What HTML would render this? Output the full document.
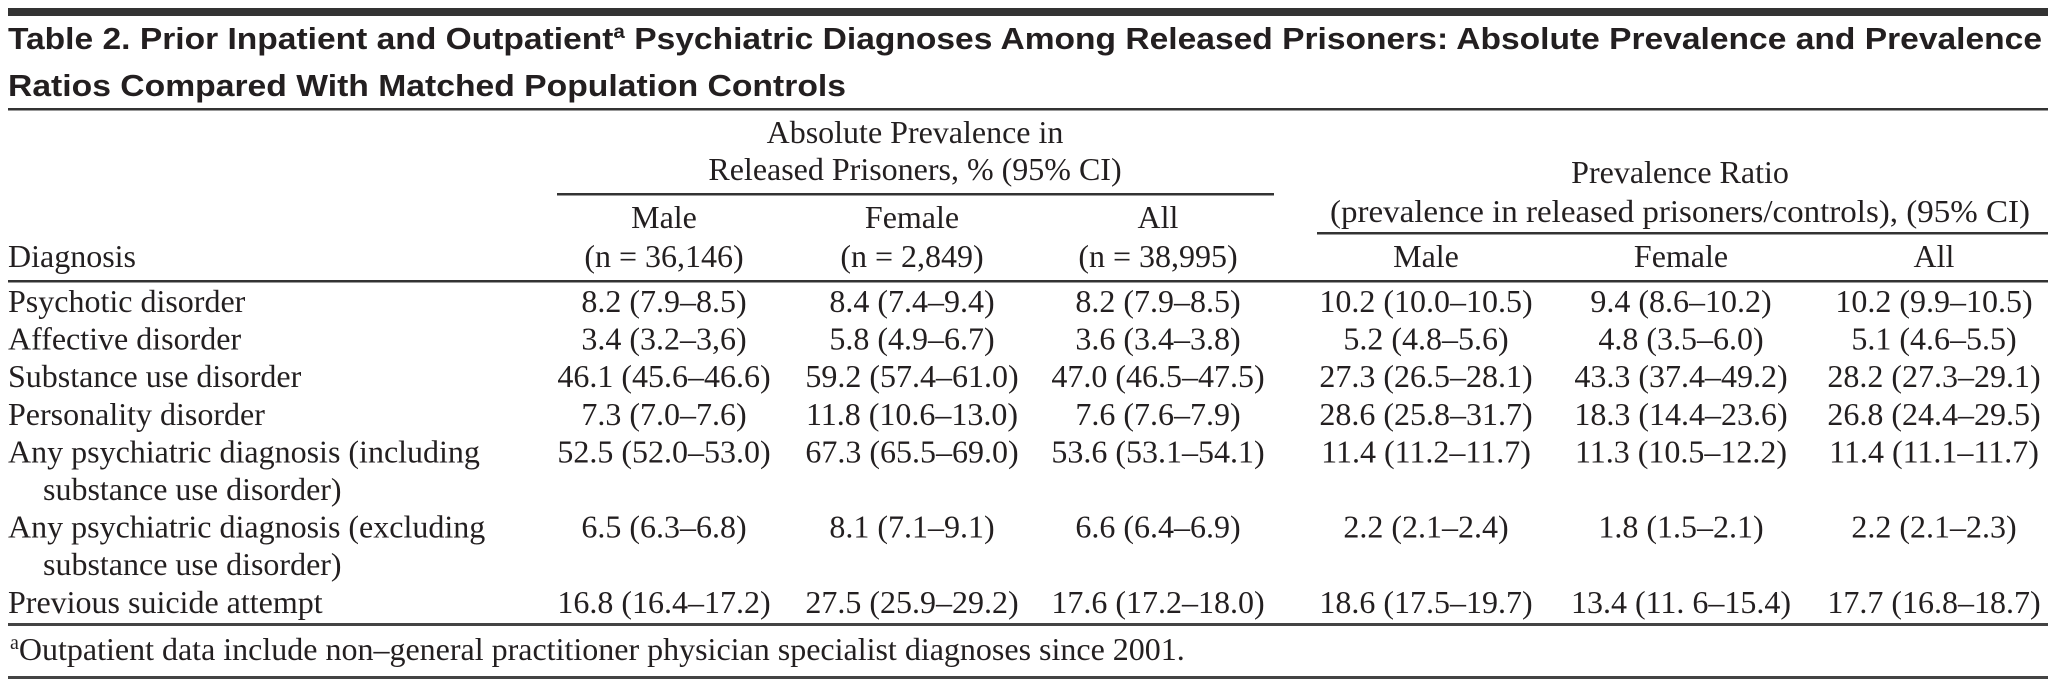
<!DOCTYPE html>
<html>
<head>
<meta charset="utf-8">
<style>
  html,body{margin:0;padding:0;background:#fff;}
  svg{display:block;}
  .serif{font-family:"Liberation Serif",serif;fill:#231f20;}
  .sans{font-family:"Liberation Sans",sans-serif;font-weight:bold;fill:#231f20;}
</style>
</head>
<body>
<svg id="tbl" width="2056" height="686" viewBox="0 0 2056 686" xmlns="http://www.w3.org/2000/svg">
  <rect x="8" y="8" width="2040" height="8" fill="#333"/>
  <text class="sans" x="8" y="49" font-size="31" textLength="2034" lengthAdjust="spacingAndGlyphs">Table 2. Prior Inpatient and Outpatient<tspan font-size="19" dy="-11">a</tspan><tspan dy="11"> Psychiatric Diagnoses Among Released Prisoners: Absolute Prevalence and Prevalence</tspan></text>
  <text class="sans" x="8" y="96" font-size="31" textLength="838" lengthAdjust="spacingAndGlyphs">Ratios Compared With Matched Population Controls</text>
  <rect x="8" y="108" width="2040" height="2.5" fill="#333"/>

  <text class="serif" x="915" y="143" font-size="32" text-anchor="middle">Absolute Prevalence in</text>
  <text class="serif" x="915" y="180" font-size="32" text-anchor="middle">Released Prisoners, % (95% CI)</text>
  <rect x="557" y="193" width="717" height="2.5" fill="#333"/>

  <text class="serif" x="1680" y="183" font-size="32" text-anchor="middle">Prevalence Ratio</text>
  <text class="serif" x="1680" y="222" font-size="32" text-anchor="middle" textLength="700" lengthAdjust="spacingAndGlyphs">(prevalence in released prisoners/controls), (95% CI)</text>
  <rect x="1317" y="232" width="731" height="2.5" fill="#333"/>

  <text class="serif" x="8" y="267" font-size="32">Diagnosis</text>
  <g id="headers"></g>
  <rect x="8" y="280" width="2040" height="2.5" fill="#333"/>
  <g id="rows"></g>
  <rect x="8" y="623" width="2040" height="3" fill="#444"/>
  <text class="serif" x="10" y="660" font-size="32"><tspan font-size="20" dy="-11">a</tspan><tspan dy="11">Outpatient data include non–general practitioner physician specialist diagnoses since 2001.</tspan></text>
  <rect x="8" y="676" width="2040" height="3" fill="#444"/>
</svg>
<script>
const colCenters = [664, 912, 1158, 1426, 1681, 1934];
const groupLabels = ["Male", "Female", "All", "Male", "Female", "All"];
const groupCounts = ["(n = 36,146)", "(n = 2,849)", "(n = 38,995)", "", "", ""];
const diagnoses = [
  ["Psychotic disorder"],
  ["Affective disorder"],
  ["Substance use disorder"],
  ["Personality disorder"],
  ["Any psychiatric diagnosis (including", "substance use disorder)"],
  ["Any psychiatric diagnosis (excluding", "substance use disorder)"],
  ["Previous suicide attempt"]
];
const absMale = ["8.2 (7.9–8.5)", "3.4 (3.2–3,6)", "46.1 (45.6–46.6)", "7.3 (7.0–7.6)", "52.5 (52.0–53.0)", "6.5 (6.3–6.8)", "16.8 (16.4–17.2)"];
const absFemale = ["8.4 (7.4–9.4)", "5.8 (4.9–6.7)", "59.2 (57.4–61.0)", "11.8 (10.6–13.0)", "67.3 (65.5–69.0)", "8.1 (7.1–9.1)", "27.5 (25.9–29.2)"];
const absAll = ["8.2 (7.9–8.5)", "3.6 (3.4–3.8)", "47.0 (46.5–47.5)", "7.6 (7.6–7.9)", "53.6 (53.1–54.1)", "6.6 (6.4–6.9)", "17.6 (17.2–18.0)"];
const ratioMale = ["10.2 (10.0–10.5)", "5.2 (4.8–5.6)", "27.3 (26.5–28.1)", "28.6 (25.8–31.7)", "11.4 (11.2–11.7)", "2.2 (2.1–2.4)", "18.6 (17.5–19.7)"];
const ratioFemale = ["9.4 (8.6–10.2)", "4.8 (3.5–6.0)", "43.3 (37.4–49.2)", "18.3 (14.4–23.6)", "11.3 (10.5–12.2)", "1.8 (1.5–2.1)", "13.4 (11. 6–15.4)"];
const ratioAll = ["10.2 (9.9–10.5)", "5.1 (4.6–5.5)", "28.2 (27.3–29.1)", "26.8 (24.4–29.5)", "11.4 (11.1–11.7)", "2.2 (2.1–2.3)", "17.7 (16.8–18.7)"];

const NS = "http://www.w3.org/2000/svg";
const firstBaseline = 312, pitch = 37.6;
function lineY(i){ return firstBaseline + i * pitch; }
function mk(parent, x, y, txt, anchor){
  const t = document.createElementNS(NS, "text");
  t.setAttribute("class", "serif");
  t.setAttribute("x", x);
  t.setAttribute("y", y);
  t.setAttribute("font-size", "32");
  if (anchor) t.setAttribute("text-anchor", anchor);
  t.textContent = txt;
  parent.appendChild(t);
  return t;
}
const hg = document.getElementById("headers");
groupLabels.forEach((g, i) => {
  const yLab = i < 3 ? 228 : 267;
  const t = mk(hg, colCenters[i], yLab, g, "middle");
  
  
  if (groupCounts[i]) {
    const c = mk(hg, colCenters[i], 267, groupCounts[i], "middle");
    
    
  }
});
const cols = [absMale, absFemale, absAll, ratioMale, ratioFemale, ratioAll];
const rg = document.getElementById("rows");
let line = 0;
diagnoses.forEach((d, r) => {
  const y = lineY(line);
  const lab = mk(rg, 8, y, d[0]);
  
  
  if (d[1]) {
    const l2 = mk(rg, 43, lineY(line + 1), d[1]);
    
    
  }
  cols.forEach((col, c) => {
    const cell = mk(rg, colCenters[c], y, col[r], "middle");
    
    
  });
  line += d.length;
});
</script>
</body>
</html>
